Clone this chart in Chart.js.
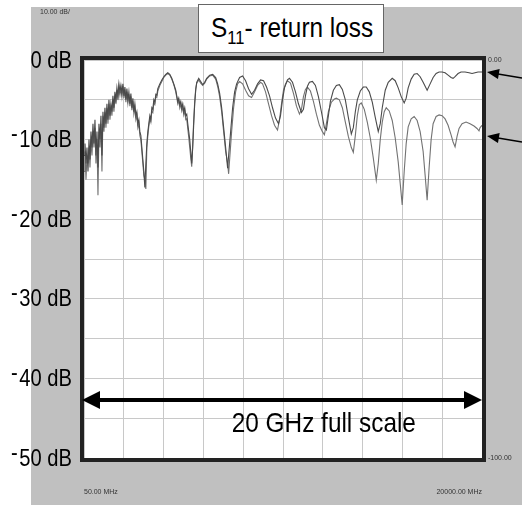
<!DOCTYPE html>
<html lang="en">
  <head>
    <meta charset="UTF-8" />
    <title>S11 return loss</title>
    <style>
      body {
        margin: 0;
        background: #fff;
        font-family: "Liberation Sans", Arial, sans-serif;
      }
      .wrap {
        position: relative;
        width: 522px;
        height: 508px;
      }
      .title-box {
        position: absolute;
        left: 198px;
        top: 4px;
        width: 184px;
        height: 47px;
        border: 1px solid #666;
        background: #fff;
        font-size: 28px;
        line-height: 46px;
        text-align: center;
        color: #000;
        white-space: nowrap;
      }
      .squeeze {
        display: inline-block;
        transform: scaleX(0.87);
        transform-origin: center;
      }
      .title-box sub {
        font-size: 19px;
        vertical-align: -7px;
        line-height: 0;
      }
      .note {
        position: absolute;
        font-size: 7px;
        color: #333;
        white-space: nowrap;
      }
      .scale-text {
        position: absolute;
        left: 204px;
        top: 406px;
        width: 240px;
        text-align: center;
        font-size: 28px;
        line-height: 34px;
        color: #000;
        white-space: nowrap;
      }
    </style>
  </head>
  <body>
    <div class="wrap">
      <canvas id="s11Chart" width="522" height="508"></canvas>
      <div class="title-box"><span class="squeeze">S<sub>11</sub>- return loss</span></div>
      <div class="note" style="left: 40px; top: 8px">10.00 dB/</div>
      <div class="scale-text"><span class="squeeze">20 GHz full scale</span></div>
    </div>
    <script src="https://cdn.jsdelivr.net/npm/chart.js"></script>
    <script>
      // upper trace (GHz, dB)
      const freqA = [
        0.05, 0.1, 0.15, 0.2, 0.25, 0.3, 0.35, 0.4, 0.45, 0.5,
        0.55, 0.6, 0.65, 0.7, 0.75, 0.8, 0.85, 0.9, 0.95, 1.0,
        1.05, 1.1, 1.15, 1.2, 1.25, 1.3, 1.35, 1.4, 1.45, 1.5,
        1.55, 1.6, 1.65, 1.7, 1.75, 1.8, 1.85, 1.9, 1.95, 2.0,
        2.05, 2.1, 2.15, 2.2, 2.25, 2.3, 2.35, 2.4, 2.45, 2.5,
        2.55, 2.6, 2.65, 2.7, 2.75, 2.8, 2.85, 2.9, 2.95, 3.0,
        3.05, 3.1, 3.15, 3.2, 3.25, 3.3, 3.35, 3.4, 3.45, 3.5,
        3.55, 3.6, 3.65, 3.7, 3.75, 3.85, 3.95, 4.05, 4.15, 4.25,
        4.35, 4.45, 4.55, 4.65, 4.7, 4.75, 4.8, 4.85, 4.9, 4.95,
        5.0, 5.05, 5.1, 5.15, 5.2, 5.25, 5.3, 5.35, 5.4, 5.45,
        5.5, 5.55, 5.6, 5.65, 5.7, 5.8, 5.9, 6.0, 6.1, 6.2,
        6.35, 6.5, 6.65, 6.75, 6.85, 6.95, 7.05, 7.15, 7.25, 7.3,
        7.4, 7.5, 7.6, 7.7, 7.85, 8.0, 8.15, 8.3, 8.45, 8.6,
        8.75, 8.9, 9.05, 9.2, 9.35, 9.5, 9.65, 9.8, 9.9, 10.0,
        10.1, 10.25, 10.35, 10.5, 10.65, 10.8, 10.95, 11.05, 11.15, 11.25,
        11.35, 11.5, 11.65, 11.8, 11.95, 12.1, 12.2, 12.3, 12.4, 12.55,
        12.7, 12.85, 13.0, 13.15, 13.3, 13.45, 13.55, 13.65, 13.75, 13.9,
        14.05, 14.2, 14.35, 14.5, 14.65, 14.8, 14.9, 15.0, 15.15, 15.3,
        15.5, 15.65, 15.8, 15.95, 16.1, 16.2, 16.3, 16.45, 16.6, 16.75,
        16.9, 17.05, 17.25, 17.4, 17.55, 17.7, 17.85, 18.0, 18.15, 18.3,
        18.45, 18.55, 18.65, 18.8, 18.95, 19.15, 19.35, 19.5, 19.65, 19.8,
        20.0
      ];
      const lossA = [
        -12, -10.5, -13, -11, -14, -10, -12.5, -9, -11, -8,
        -10.5, -7.5, -12, -9, -13.5, -8, -10, -7, -12, -6.5,
        -8.5, -6, -8, -5.5, -7.5, -5, -7, -5.5, -6.5, -4.5,
        -6, -4, -5, -3.5, -4.5, -3, -4, -3.2, -4.2, -3,
        -4.5, -3.4, -5, -3.6, -5, -4, -5.5, -4.2, -6, -4.8,
        -6.5, -5.5, -7, -6.5, -8, -7.5, -9, -9.5, -11, -12.5,
        -14, -16, -13, -10.5, -9, -8, -7, -7.5, -6, -6.2,
        -5, -5.3, -4.3, -4.4, -3.6, -3, -2.5, -2.1, -1.8, -1.6,
        -1.8, -2.3, -3, -3.8, -4.5, -5.2, -4.8, -5.6, -5.2, -6,
        -5.5, -6.5, -6, -7, -6.8, -8, -9, -10, -11.5, -13,
        -11, -8, -5.5, -3.8, -2.8, -2.3, -2.7, -3.1, -2.8, -2.3,
        -1.9, -1.8, -2.2, -3, -4.2, -6, -8.5, -11, -13.6, -12,
        -9, -6, -4, -3, -2.2, -2, -2.6, -3.6, -4.3, -3.8,
        -3, -2.5, -2.6, -3.4, -4.5, -6, -7.3, -8, -7, -5,
        -3.5, -2.5, -2.3, -2.8, -4, -5.5, -6.6, -6.2, -4.5, -3.3,
        -2.8, -2.7, -3.2, -4.6, -6.5, -8.5, -8.8, -7, -5.2, -3.8,
        -3.2, -3.1, -3.7, -5, -7.2, -9.3, -8.5, -6.5, -5, -3.9,
        -3.4, -3.4, -4, -5.3, -7.2, -9, -8, -6, -3.8, -2.8,
        -2.3, -2.6, -3.5, -4.6, -5.4, -4.8, -3.5, -2.4, -1.8, -1.7,
        -2.1, -2.8, -3.8, -3, -2.2, -1.7, -1.5, -1.5, -1.6, -1.9,
        -2.2, -2.3, -2.1, -1.7, -1.5, -1.5, -1.6, -1.7, -1.6, -1.5,
        -1.5
      ];

      // lower trace (GHz, dB)
      const freqB = [
        0.05, 0.1, 0.15, 0.2, 0.25, 0.3, 0.35, 0.4, 0.45, 0.5,
        0.55, 0.6, 0.65, 0.7, 0.75, 0.8, 0.85, 0.9, 0.95, 1.0,
        1.05, 1.1, 1.15, 1.2, 1.25, 1.3, 1.35, 1.4, 1.45, 1.5,
        1.55, 1.6, 1.65, 1.7, 1.75, 1.8, 1.85, 1.9, 1.95, 2.0,
        2.05, 2.1, 2.15, 2.2, 2.25, 2.3, 2.35, 2.4, 2.45, 2.5,
        2.55, 2.6, 2.65, 2.7, 2.75, 2.8, 2.85, 2.9, 2.95, 3.0,
        3.05, 3.1, 3.15, 3.2, 3.25, 3.3, 3.35, 3.4, 3.45, 3.5,
        3.55, 3.6, 3.65, 3.7, 3.75, 3.85, 3.95, 4.05, 4.15, 4.25,
        4.35, 4.45, 4.55, 4.65, 4.7, 4.75, 4.8, 4.85, 4.9, 4.95,
        5.0, 5.05, 5.1, 5.15, 5.2, 5.25, 5.3, 5.35, 5.4, 5.45,
        5.5, 5.55, 5.6, 5.65, 5.7, 5.8, 5.9, 6.0, 6.1, 6.2,
        6.35, 6.5, 6.65, 6.75, 6.85, 6.95, 7.05, 7.15, 7.25, 7.3,
        7.35, 7.45, 7.55, 7.65, 7.75, 7.85, 8.0, 8.15, 8.3, 8.45,
        8.6, 8.75, 8.9, 9.0, 9.15, 9.3, 9.45, 9.6, 9.75, 9.85,
        9.95, 10.05, 10.15, 10.25, 10.4, 10.55, 10.7, 10.85, 10.95, 11.05,
        11.15, 11.25, 11.4, 11.55, 11.7, 11.85, 12.0, 12.1, 12.2, 12.3,
        12.45, 12.6, 12.7, 12.85, 13.0, 13.15, 13.3, 13.45, 13.55, 13.65,
        13.75, 13.85, 13.95, 14.1, 14.25, 14.4, 14.55, 14.7, 14.8, 14.9,
        15.0, 15.1, 15.2, 15.35, 15.5, 15.65, 15.8, 15.9, 16.0, 16.1,
        16.2, 16.3, 16.45, 16.6, 16.75, 16.9, 17.05, 17.15, 17.25, 17.35,
        17.45, 17.55, 17.7, 17.85, 18.0, 18.15, 18.3, 18.45, 18.55, 18.65,
        18.75, 18.85, 19.0, 19.2, 19.4, 19.6, 19.75, 19.85, 19.9, 20.0
      ];
      const lossB = [
        -14, -11.5, -15, -12, -13, -11, -13.5, -10, -12, -9,
        -11, -8.5, -13, -10, -17, -9, -11, -8, -14, -7,
        -9, -6.5, -8.5, -6, -8, -5.5, -7.5, -6, -7, -5,
        -6.5, -4.5, -5.5, -3.8, -5, -3.4, -4.4, -3.5, -4.6, -3.3,
        -4.8, -3.7, -5.3, -4, -5.4, -4.3, -5.8, -4.6, -6.3, -5.2,
        -6.8, -6, -7.5, -7, -8.5, -8, -9.5, -10, -11.5, -13,
        -14.5, -15, -16.2, -11, -9.5, -8.3, -7.4, -7.8, -6.4, -6.6,
        -5.4, -5.6, -4.6, -4.7, -3.9, -3.2, -2.7, -2.2, -1.9, -1.7,
        -1.9, -2.4, -3.1, -4, -4.7, -5.5, -5.1, -6, -5.5, -6.4,
        -5.9, -6.9, -6.4, -7.5, -7.4, -8.6, -9.7, -11, -12.3, -13.4,
        -10.5, -7.5, -5.2, -3.6, -2.9, -2.5, -2.9, -3.2, -2.9, -2.4,
        -2, -1.9, -2.4, -3.3, -4.6, -6.5, -9, -11.5, -13, -14.3,
        -12.5, -9, -6, -4, -3, -2.7, -3, -3.8, -4.5, -4.7,
        -4, -3.2, -2.8, -3, -4, -5.5, -7, -8.2, -8.8, -7.5,
        -5.5, -3.8, -3, -2.6, -2.9, -4.2, -5.8, -6.8, -6.2, -4.6,
        -3.7, -3.4, -3.9, -5.2, -6.8, -8.2, -9, -9.4, -8, -6.5,
        -5.3, -4.9, -4.8, -5, -6, -7.8, -9.6, -11, -11.6, -9.5,
        -7, -5.6, -5.4, -6.2, -7.8, -9.8, -12.3, -15.1, -13, -10,
        -7.8, -6.5, -6, -6.4, -7.6, -9.8, -12.8, -15.5, -18.2, -14,
        -10.5, -8.4, -7.4, -7.1, -7.6, -9, -11.5, -14.5, -17.6, -13.5,
        -10, -8, -7.1, -6.9, -7, -7.4, -8.2, -9.4, -10.3, -10.9,
        -9.6, -8.6, -8, -7.8, -8, -8.3, -8.6, -8.9, -8.5, -8.2
      ];

      const startGHz = 0.05;
      const stopGHz = 20;

      const toPoints = (xs, ys) => xs.map((x, i) => ({ x: x, y: ys[i] }));

      const backdrop = {
        id: "backdrop",
        beforeDraw(chart) {
          const ctx = chart.ctx;
          const a = chart.chartArea;
          ctx.save();
          ctx.fillStyle = "#c0c0c0";
          ctx.fillRect(31, 7, 491, 498);
          ctx.fillStyle = "#fff";
          ctx.fillRect(a.left, a.top, a.right - a.left, a.bottom - a.top);
          ctx.restore();
        },
      };

      function head(ctx, tx, ty, fx, fy, len, half) {
        const ang = Math.atan2(ty - fy, tx - fx);
        ctx.beginPath();
        ctx.moveTo(tx, ty);
        ctx.lineTo(tx - len * Math.cos(ang) + half * Math.sin(ang), ty - len * Math.sin(ang) - half * Math.cos(ang));
        ctx.lineTo(tx - len * Math.cos(ang) - half * Math.sin(ang), ty - len * Math.sin(ang) + half * Math.cos(ang));
        ctx.closePath();
        ctx.fill();
      }

      // condensed dB labels on the left, one per 10 dB tick
      const dbLabels = {
        id: "dbLabels",
        afterDraw(chart) {
          const ctx = chart.ctx;
          const ys = chart.scales.y;
          ctx.save();
          ctx.fillStyle = "#000";
          ctx.font = "24px 'Liberation Sans', Arial, sans-serif";
          ctx.textAlign = "right";
          ctx.textBaseline = "middle";
          ys.ticks.forEach((t) => {
            if (t.value % 10 !== 0) return;
            const y = ys.getPixelForValue(t.value) + 1;
            const body = Math.abs(t.value) + " dB";
            ctx.save();
            ctx.translate(72, y);
            ctx.scale(0.84, 1);
            ctx.fillText(body, 0, 0);
            if (t.value < 0) {
              const w = ctx.measureText(body).width;
              ctx.fillText("-", -w - 2, -6);
            }
            ctx.restore();
          });
          ctx.restore();
        },
      };

      const frame = {
        id: "frame",
        afterDraw(chart) {
          const ctx = chart.ctx;
          const a = chart.chartArea;
          const ys = chart.scales.y;
          ctx.save();
          ctx.strokeStyle = "#222";
          ctx.lineWidth = 4;
          ctx.strokeRect(a.left - 2, a.top - 2, a.right - a.left + 4, a.bottom - a.top + 4);

          // full-scale double arrow
          const ay = ys.getPixelForValue(-42.7);
          ctx.fillStyle = "#000";
          ctx.strokeStyle = "#000";
          ctx.lineWidth = 4;
          ctx.beginPath();
          ctx.moveTo(a.left + 10, ay);
          ctx.lineTo(a.right - 10, ay);
          ctx.stroke();
          head(ctx, a.left - 2, ay, a.right, ay, 18, 9);
          head(ctx, a.right, ay, a.left, ay, 18, 9);

          // pointers to trace ends
          ctx.lineWidth = 1.5;
          [[72, 78], [136, 142]].forEach(([ty, fy]) => {
            const tx = a.right + 5;
            ctx.beginPath();
            ctx.moveTo(522, fy);
            ctx.lineTo(tx + 8, ty + 1.4);
            ctx.stroke();
            head(ctx, tx, ty, 522, fy, 12, 5);
          });
          ctx.restore();
        },
      };

      const config = {
        type: "line",
        data: {
          datasets: [
            {
              data: toPoints(freqA, lossA),
              borderColor: "#4a4a4a",
              borderWidth: 1.1,
            },
            {
              data: toPoints(freqB, lossB),
              borderColor: "#727272",
              borderWidth: 1.1,
            },
          ],
        },
        options: {
          responsive: false,
          animation: false,
          parsing: false,
          layout: { padding: { top: 60, left: 0, right: 0, bottom: 0 } },
          elements: { point: { radius: 0 }, line: { tension: 0 } },
          plugins: { legend: { display: false }, tooltip: { enabled: false } },
          scales: {
            x: {
              type: "linear",
              min: startGHz,
              max: stopGHz,
              afterBuildTicks(s) {
                const t = [];
                for (let i = 0; i <= 10; i++) t.push({ value: startGHz + (i * (stopGHz - startGHz)) / 10 });
                s.ticks = t;
              },
              afterFit(s) {
                s.height = 50;
              },
              grid: { color: "#c8c8c8", drawTicks: false },
              border: { display: false },
              ticks: {
                autoSkip: false,
                maxRotation: 0,
                align: "inner",
                padding: 30,
                color: "#333",
                font: { family: "'Liberation Sans', Arial, sans-serif", size: 7 },
                callback: (v, i, all) =>
                  i === 0 || i === all.length - 1 ? (v * 1000).toFixed(2) + " MHz" : "",
              },
            },
            y: {
              position: "left",
              min: -50,
              max: 0,
              afterFit(s) {
                s.width = 84;
              },
              grid: { color: "#c8c8c8", drawTicks: false },
              border: { display: false },
              ticks: { stepSize: 5, display: false },
            },
            y2: {
              position: "right",
              min: -100,
              max: 0,
              afterBuildTicks(s) {
                s.ticks = [{ value: 0 }, { value: -100 }];
              },
              afterFit(s) {
                s.width = 40;
              },
              grid: { display: false, drawTicks: false },
              border: { display: false },
              ticks: {
                padding: 6,
                color: "#333",
                font: { family: "'Liberation Sans', Arial, sans-serif", size: 7 },
                callback: (v) => v.toFixed(2),
              },
            },
          },
        },
        plugins: [backdrop, frame, dbLabels],
      };

      new Chart(document.getElementById("s11Chart"), config);
    </script>
  </body>
</html>
